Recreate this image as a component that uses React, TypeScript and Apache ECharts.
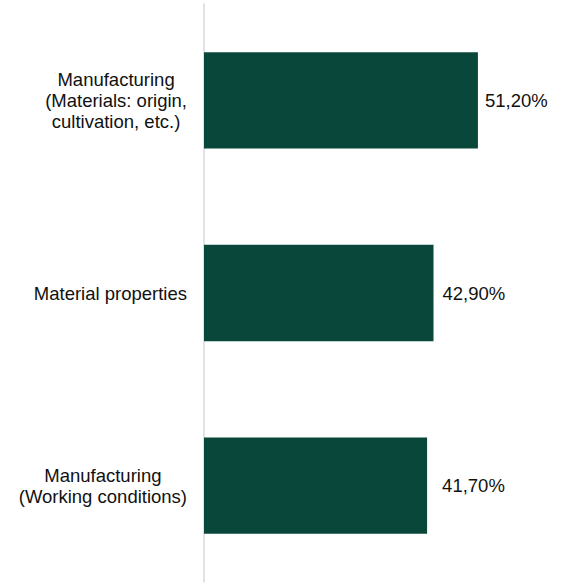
import React, { useEffect, useRef } from "react";
import * as echarts from "echarts";

// Survey shares per topic, top to bottom
const categories: string[] = [
  "Manufacturing\n(Materials: origin,\ncultivation, etc.)",
  "Material properties",
  "Manufacturing\n(Working conditions)",
];
const values: number[] = [51.2, 42.9, 41.7];
const valueLabels: string[] = ["51,20%", "42,90%", "41,70%"];
// gap between each bar end and its value label
const labelGaps: number[] = [7, 9, 15];

const BAR_COLOR = "#09473a";
const FONT = "'Liberation Sans', Arial, sans-serif";
const FONT_SIZE = 18.5;

export default function App() {
  const ref = useRef<HTMLDivElement>(null);

  useEffect(() => {
    if (!ref.current) return;
    const chart = echarts.init(ref.current, undefined, { renderer: "svg" });
    chart.setOption({
      animation: false,
      grid: { left: 204, right: 37, top: 4, bottom: 1, containLabel: false },
      xAxis: {
        type: "value",
        min: 0,
        max: 60,
        show: false,
      },
      yAxis: {
        type: "category",
        inverse: true,
        data: categories,
        axisTick: { show: false },
        axisLine: { show: true, lineStyle: { color: "#d9d9d9", width: 1.5 } },
        axisLabel: {
          margin: 17,
          fontFamily: FONT,
          fontSize: FONT_SIZE,
          lineHeight: 21,
          color: "#111",
          align: "right",
          formatter: (v: string) =>
            v
              .split("\n")
              .map((l) => `{c|${l}}`)
              .join("\n"),
          rich: {
            c: { align: "center", fontFamily: FONT, fontSize: FONT_SIZE, lineHeight: 21, color: "#111" },
          },
        },
        splitLine: { show: false },
      },
      series: [
        {
          type: "bar",
          barWidth: "50%",
          itemStyle: { color: BAR_COLOR },
          data: values.map((v, i) => ({
            value: v,
            label: {
              show: true,
              position: "right",
              distance: labelGaps[i],
              formatter: () => valueLabels[i],
              fontFamily: FONT,
              fontSize: FONT_SIZE,
              color: "#111",
            },
          })),
        },
      ],
    });
    return () => chart.dispose();
  }, []);

  return (
    <div
      ref={ref}
      style={{ position: "fixed", left: 0, top: 0, width: 562, height: 583, background: "#fff" }}
    />
  );
}
